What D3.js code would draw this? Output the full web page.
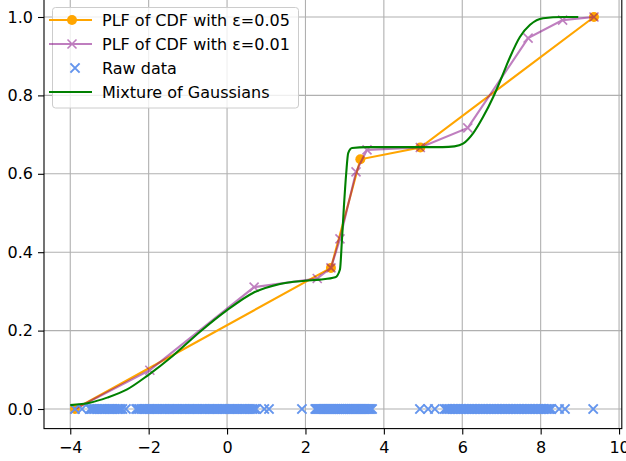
<!DOCTYPE html>
<html>
<head>
<meta charset="utf-8">
<script src="https://cdn.jsdelivr.net/npm/d3@7"></script>
<style>
  body { margin: 0; background: #fff; }
  text { font-family: "DejaVu Sans", sans-serif; }
</style>
</head>
<body>
<div id="my_dataviz"></div>
<script>
// PLF of CDF with eps=0.05 (breakpoints)
var plf05X = [-3.88, 2.65, 3.40, 4.93, 9.36];
var plf05Y = [0.0, 0.36, 0.637, 0.667, 1.0];

// PLF of CDF with eps=0.01 (breakpoints)
var plf01X = [-3.88, -1.97, 0.69, 2.30, 2.65, 2.88, 3.29, 3.57, 4.93, 6.14, 7.68, 8.56, 9.36];
var plf01Y = [0.0, 0.099, 0.311, 0.333, 0.36, 0.434, 0.605, 0.661, 0.667, 0.717, 0.946, 0.992, 1.0];

// mixture of gaussians CDF
var mixX = [-4.0, -3.5, -3.06, -2.55, -2.02, -1.38, -0.69, 0.0, 0.66, 1.35, 1.99, 2.37, 2.76, 2.88, 2.93,
  2.98, 3.04, 3.09, 3.19, 3.57, 4.5, 5.5, 5.8, 6.02, 6.28, 6.53, 6.79, 7.01, 7.22, 7.47, 7.73, 8.06, 8.57, 8.96];
var mixY = [0.010, 0.016, 0.029, 0.050, 0.086, 0.136, 0.197, 0.252, 0.296, 0.319, 0.327, 0.330, 0.336, 0.356, 0.43,
  0.515, 0.602, 0.653, 0.666, 0.668, 0.668, 0.668, 0.670, 0.677, 0.704, 0.745, 0.796, 0.847, 0.898, 0.949, 0.980, 0.997, 1.0, 1.0];

// raw samples (all drawn at y = 0)
var rawData = [
  -3.88, -3.70, -3.50, -3.46, -3.42, -3.38, -3.34, -3.30, -3.25, -3.21, -3.17, -3.13, -3.09, -3.04, -3.00,
  -2.96, -2.92, -2.87, -2.83, -2.79, -2.75, -2.71, -2.67, -2.58,
  -2.32, -2.28, -2.24, -2.19, -2.15, -2.11, -2.07, -2.02, -1.98, -1.94, -1.90, -1.85, -1.81, -1.77, -1.73,
  -1.68, -1.64, -1.60, -1.56, -1.51, -1.47, -1.43, -1.39, -1.34, -1.30, -1.26, -1.22, -1.17, -1.13, -1.09,
  -1.05, -1.00, -0.96, -0.92, -0.88, -0.83, -0.79, -0.75, -0.71, -0.66, -0.62, -0.58, -0.54, -0.49, -0.45,
  -0.41, -0.37, -0.32, -0.28, -0.24, -0.20, -0.15, -0.11, -0.07, -0.03, 0.02, 0.06, 0.10, 0.14, 0.19,
  0.23, 0.27, 0.31, 0.36, 0.40, 0.44, 0.48, 0.53, 0.57, 0.61, 0.65, 0.70, 0.74, 0.95, 1.07,
  1.91,
  2.25, 2.28, 2.30, 2.33, 2.36, 2.38, 2.41, 2.43, 2.46, 2.48, 2.51, 2.53, 2.56, 2.58, 2.61, 2.63, 2.66,
  2.68, 2.71, 2.73, 2.76, 2.78, 2.81, 2.83, 2.86, 2.88, 2.91, 2.93, 2.96, 2.98, 3.01, 3.03, 3.06, 3.08,
  3.11, 3.13, 3.16, 3.18, 3.21, 3.23, 3.26, 3.28, 3.31, 3.33, 3.36, 3.38, 3.41, 3.43, 3.46, 3.48, 3.51,
  3.53, 3.56, 3.58, 3.61, 3.64, 3.67, 3.70,
  4.92, 5.13, 5.30,
  5.55, 5.59, 5.63, 5.67, 5.71, 5.75, 5.79, 5.83, 5.87, 5.91, 5.95, 5.99, 6.03, 6.07, 6.11, 6.15, 6.19,
  6.23, 6.27, 6.31, 6.35, 6.39, 6.43, 6.47, 6.51, 6.55, 6.59, 6.63, 6.67, 6.71, 6.75, 6.79, 6.83, 6.87,
  6.91, 6.95, 6.99, 7.03, 7.07, 7.11, 7.15, 7.19, 7.23, 7.27, 7.31, 7.35, 7.39, 7.43, 7.47, 7.51, 7.55,
  7.59, 7.63, 7.67, 7.71, 7.75, 7.79, 7.83, 7.87, 7.91, 7.95, 7.99, 8.03, 8.07, 8.11, 8.15, 8.19, 8.23,
  8.27, 8.47, 8.62,
  9.34
];

var xTicks = [-4, -2, 0, 2, 4, 6, 8, 10];
var yTicks = [0.0, 0.2, 0.4, 0.6, 0.8, 1.0];

var legendLabels = ["PLF of CDF with ε=0.05", "PLF of CDF with ε=0.01", "Raw data", "Mixture of Gaussians"];

var W = 626, H = 461;
var fontSize = 16;

var svg = d3.select("#my_dataviz")
  .append("svg")
  .attr("width", W)
  .attr("height", H);

// scales (matplotlib style 5% margins)
var x = d3.scaleLinear().domain([-4.67, 10.07]).range([44, 621.8]);
var y = d3.scaleLinear().domain([-0.05, 1.05]).range([428.6, -2.6]);

var x0 = x.range()[0], x1 = x.range()[1];
var y0 = y.range()[0], y1 = y.range()[1];

// grid
var grid = svg.append("g");
grid.selectAll(".gx")
  .data(xTicks)
  .enter().append("line")
  .attr("x1", function(d) { return x(d); })
  .attr("x2", function(d) { return x(d); })
  .attr("y1", y0).attr("y2", y1)
  .attr("stroke", "#b0b0b0").attr("stroke-width", 1.1);
grid.selectAll(".gy")
  .data(yTicks)
  .enter().append("line")
  .attr("y1", function(d) { return y(d); })
  .attr("y2", function(d) { return y(d); })
  .attr("x1", x0).attr("x2", x1)
  .attr("stroke", "#b0b0b0").attr("stroke-width", 1.1);

// x axis
var xAxis = svg.append("g")
  .attr("transform", "translate(0," + y0 + ")")
  .call(d3.axisBottom(x).tickValues(xTicks).tickSize(6).tickPadding(7)
    .tickFormat(function(d) { return d < 0 ? "\u2212" + Math.abs(d) : d; }));

// y axis
var yAxis = svg.append("g")
  .attr("transform", "translate(" + x0 + ",0)")
  .call(d3.axisLeft(y).tickValues(yTicks).tickSize(6).tickPadding(5).tickFormat(d3.format(".1f")));

[xAxis, yAxis].forEach(function(a) {
  a.select(".domain").remove();
  a.selectAll("line").attr("stroke", "#000").attr("stroke-width", 1.1);
  a.selectAll("text")
    .attr("fill", "#000")
    .style("font-size", fontSize + "px")
    .style("font-family", "'DejaVu Sans', sans-serif");
});

var line = d3.line()
  .x(function(d) { return x(d[0]); })
  .y(function(d) { return y(d[1]); });

var plf05 = d3.zip(plf05X, plf05Y);
var plf01 = d3.zip(plf01X, plf01Y);
var mix = d3.zip(mixX, mixY);

var xPath = function(r) { return "M" + (-r) + "," + (-r) + "L" + r + "," + r + "M" + (-r) + "," + r + "L" + r + "," + (-r); };

// orange PLF
svg.append("path")
  .datum(plf05)
  .attr("d", line)
  .attr("fill", "none").attr("stroke", "orange").attr("stroke-width", 2.1);
svg.selectAll(".o05")
  .data(plf05)
  .enter().append("circle")
  .attr("cx", function(d) { return x(d[0]); })
  .attr("cy", function(d) { return y(d[1]); })
  .attr("r", 5)
  .attr("fill", "orange");

// purple PLF (alpha .5)
var pg = svg.append("g").attr("opacity", 0.5);
pg.append("path")
  .datum(plf01)
  .attr("d", line)
  .attr("fill", "none").attr("stroke", "purple").attr("stroke-width", 2.1);
pg.selectAll(".o01")
  .data(plf01)
  .enter().append("path")
  .attr("transform", function(d) { return "translate(" + x(d[0]) + "," + y(d[1]) + ")"; })
  .attr("d", xPath(4.5))
  .attr("stroke", "purple").attr("stroke-width", 1.6);

// raw data
svg.append("g").selectAll("path")
  .data(rawData)
  .enter().append("path")
  .attr("transform", function(d) { return "translate(" + x(d) + "," + y(0) + ")"; })
  .attr("d", xPath(4.6))
  .attr("stroke", "cornflowerblue").attr("stroke-width", 2);

// mixture
svg.append("path")
  .datum(mix)
  .attr("d", line.curve(d3.curveMonotoneX))
  .attr("fill", "none").attr("stroke", "green").attr("stroke-width", 2.1);

// spines
svg.append("rect")
  .attr("x", x0).attr("y", y1)
  .attr("width", x1 - x0).attr("height", y0 - y1)
  .attr("fill", "none").attr("stroke", "#000").attr("stroke-width", 1.1);

// legend
var lg = svg.append("g");
lg.append("rect")
  .attr("x", 52.5).attr("y", 7.5).attr("width", 246).attr("height", 100.5)
  .attr("rx", 3)
  .attr("fill", "white").attr("fill-opacity", 0.8)
  .attr("stroke", "#cccccc").attr("stroke-width", 1);

var rows = lg.selectAll(".row")
  .data(legendLabels)
  .enter().append("g")
  .attr("transform", function(d, i) { return "translate(0," + (20 + i * 24) + ")"; });

rows.append("text")
  .attr("x", 102).attr("y", 0)
  .attr("dy", "0.36em")
  .style("font-size", fontSize + "px")
  .attr("fill", "#000")
  .text(function(d) { return d; });

var hx1 = 49, hx2 = 92, hc = 72;
var r0 = d3.select(rows.nodes()[0]);
r0.append("line").attr("x1", hx1).attr("x2", hx2).attr("stroke", "orange").attr("stroke-width", 2.1);
r0.append("circle").attr("cx", hc).attr("r", 5).attr("fill", "orange");

var r1 = d3.select(rows.nodes()[1]).append("g").attr("opacity", 0.5);
r1.append("line").attr("x1", hx1).attr("x2", hx2).attr("stroke", "purple").attr("stroke-width", 2.1);
r1.append("path").attr("transform", "translate(" + hc + ",0)").attr("d", xPath(4.5))
  .attr("stroke", "purple").attr("stroke-width", 1.6);

var r2 = d3.select(rows.nodes()[2]);
r2.append("path").attr("transform", "translate(" + (hc + 3) + ",0)").attr("d", xPath(4.6))
  .attr("stroke", "cornflowerblue").attr("stroke-width", 2);

var r3 = d3.select(rows.nodes()[3]);
r3.append("line").attr("x1", hx1).attr("x2", hx2).attr("stroke", "green").attr("stroke-width", 2.1);
</script>
</body>
</html>
